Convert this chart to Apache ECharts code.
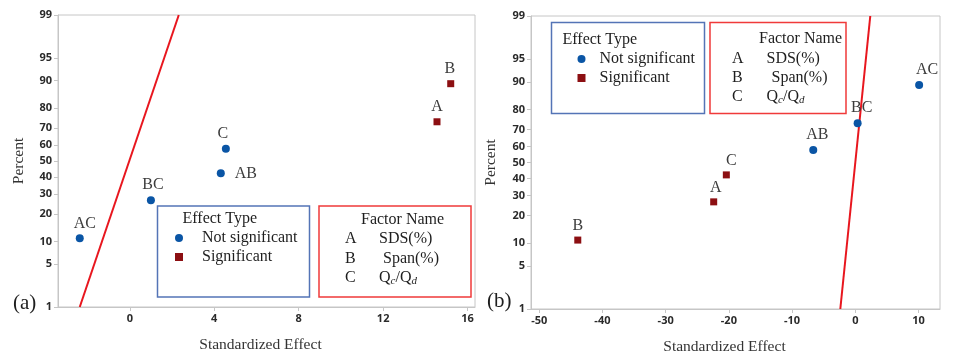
<!DOCTYPE html>
<html><head><meta charset="utf-8">
<script src="https://cdn.jsdelivr.net/npm/echarts@6/dist/echarts.min.js"></script>
<style>html,body{margin:0;padding:0;background:#fff}#c{width:955px;height:362px}</style>
</head><body><div id="c"></div>
<script>
// ---------------- data ----------------
const percentRanks = [10.9, 26.6, 42.2, 57.8, 73.4, 89.1];
const effectsA = ['AC', 'BC', 'AB', 'C', 'A', 'B'];
const valuesA = [-2.37, 1.0, 4.31, 4.55, 14.55, 15.2];
const significantA = [false, false, false, false, true, true];
const effectsB = ['B', 'A', 'C', 'AB', 'BC', 'AC'];
const valuesB = [-43.9, -22.4, -20.4, -6.65, 0.37, 10.1];
const significantB = [true, true, true, false, false, false];
const refLineEffectA = [-2.37, 2.32];
const refLineEffectB = [-2.37, 2.37];
const refLinePercent = [1, 99];
const percentTicks = [1, 5, 10, 20, 30, 40, 50, 60, 70, 80, 90, 95, 99];
const effectTicksA = [0, 4, 8, 12, 16];
const effectTicksB = [-50, -40, -30, -20, -10, 0, 10];
const effectRangeA = [-3.4, 16.35];
const effectRangeB = [-51.3, 13.4];
const legendNames = ['Not significant', 'Significant'];
const factorLetters = ['A', 'B', 'C'];
const factorNames = ['SDS(%)', 'Span(%)', 'Q{s|c}/Q{s|d}'];

// ---------------- helpers ----------------
function probit(p) {
  const a = [-3.969683028665376e+01, 2.209460984245205e+02, -2.759285104469687e+02, 1.383577518672690e+02, -3.066479806614716e+01, 2.506628277459239e+00];
  const b = [-5.447609879822406e+01, 1.615858368580409e+02, -1.556989798598866e+02, 6.680131188771972e+01, -1.328068155288572e+01];
  const c = [-7.784894002430293e-03, -3.223964580411365e-01, -2.400758277161838e+00, -2.549732539343734e+00, 4.374664141464968e+00, 2.938163982698783e+00];
  const d = [7.784695709041462e-03, 3.224671290700398e-01, 2.445134137142996e+00, 3.754408661907416e+00];
  const pl = 0.02425, ph = 1 - pl;
  let q, r;
  if (p < pl) { q = Math.sqrt(-2 * Math.log(p)); return (((((c[0]*q+c[1])*q+c[2])*q+c[3])*q+c[4])*q+c[5]) / ((((d[0]*q+d[1])*q+d[2])*q+d[3])*q+1); }
  if (p <= ph) { q = p - 0.5; r = q*q; return (((((a[0]*r+a[1])*r+a[2])*r+a[3])*r+a[4])*r+a[5])*q / (((((b[0]*r+b[1])*r+b[2])*r+b[3])*r+b[4])*r+1); }
  q = Math.sqrt(-2 * Math.log(1 - p));
  return -(((((c[0]*q+c[1])*q+c[2])*q+c[3])*q+c[4])*q+c[5]) / ((((d[0]*q+d[1])*q+d[2])*q+d[3])*q+1);
}
const zp = pct => probit(pct / 100);

const SERIF = '"Liberation Serif", "Times New Roman", serif';
const SANS = '"Open Sans", "Noto Sans", sans-serif';
const BLUE = '#0a55a5';
const DARKRED = '#8c0f12';
const AXIS = '#c6c6c6';

// label placement (style config)
const placeA = { AC: [5, 0, 'top'], BC: [2, 0, 'top'], AB: [0, 0, 'right'], C: [-3, 0, 'top'], A: [0, 0, 'top'], B: [-1, 0, 'top'] };
const placeB = { B: [0, 0, 'top'], A: [2, 0, 'top'], C: [5, 0, 'top'], AB: [4, 0, 'top'], BC: [4, 0, 'top'], AC: [8, 0, 'top'] };

function points(effects, values, sig, wantSig, place) {
  const out = [];
  effects.forEach((e, i) => {
    if (sig[i] !== wantSig) return;
    const p = place[e];
    out.push({
      name: e,
      value: [values[i], zp(percentRanks[i])],
      label: { position: p[2], offset: [p[0], p[1]], distance: p[2] === 'right' ? 10 : 3 }
    });
  });
  return out;
}

function xAxisCfg(gi, range, ticks, padRight) {
  return {
    type: 'value', gridIndex: gi, min: range[0], max: range[1],
    name: 'Standardized Effect', nameLocation: 'middle', nameGap: 30,
    nameTextStyle: { fontFamily: SERIF, fontSize: 15.5, color: '#333', padding: [0, padRight, 0, 0] },
    axisLine: { show: true, onZero: false, lineStyle: { color: AXIS } },
    axisTick: { show: true, length: 4, lineStyle: { color: AXIS }, customValues: ticks },
    axisLabel: { customValues: ticks, fontFamily: SANS, fontWeight: 'bold', fontSize: 11, color: '#2a2a2a', margin: 6 },
    splitLine: { show: false }
  };
}
function yAxisCfg(gi, gap) {
  const zt = percentTicks.map(zp);
  return {
    type: 'value', gridIndex: gi, min: zp(1), max: zp(99),
    name: 'Percent', nameLocation: 'middle', nameGap: gap,
    nameTextStyle: { fontFamily: SERIF, fontSize: 15.5, color: '#333' },
    axisLine: { show: true, onZero: false, lineStyle: { color: AXIS } },
    axisTick: { show: true, length: 4, lineStyle: { color: AXIS }, customValues: zt },
    axisLabel: {
      customValues: zt, fontFamily: SANS, fontWeight: 'bold', fontSize: 11, color: '#2a2a2a', margin: 6,
      formatter: v => {
        let best = 0;
        zt.forEach((z, i) => { if (Math.abs(z - v) < Math.abs(zt[best] - v)) best = i; });
        return String(percentTicks[best]);
      }
    },
    splitLine: { show: false }
  };
}

const pointLabel = { show: true, formatter: '{b}', fontFamily: SERIF, fontSize: 16, color: '#3c3c3c' };

function scatterSeries(gi, name, data, color, symbol, size) {
  return {
    type: 'scatter', name, xAxisIndex: gi, yAxisIndex: gi, data, symbol, symbolSize: size,
    itemStyle: { color, opacity: 1 }, label: pointLabel, z: 3, emphasis: { disabled: true }
  };
}
function refLine(gi, xs) {
  return {
    type: 'line', xAxisIndex: gi, yAxisIndex: gi,
    data: xs.map((x, i) => [x, zp(refLinePercent[i])]),
    showSymbol: false, symbol: 'none', lineStyle: { color: '#e8161e', width: 2 }, z: 2,
    emphasis: { disabled: true }, silent: true
  };
}

function txt(x, y, text, extra) {
  return {
    type: 'text', x, y, silent: true,
    style: Object.assign({ text, fill: '#1e1e1e', fontFamily: SERIF, fontSize: 16, verticalAlign: 'middle', align: 'left' }, extra || {})
  };
}
function box(x, y, w, h, color) {
  return { type: 'rect', shape: { x, y, width: w, height: h }, silent: true, style: { fill: 'none', stroke: color, lineWidth: 1.5 } };
}
const subRich = { s: { fontFamily: SERIF, fontSize: 11, fontStyle: 'italic', fill: '#1e1e1e', padding: [7, 0, 0, 0] } };

function factorBox(titleX, titleY, letterX, nameXs, rowY) {
  const els = [txt(titleX, titleY, 'Factor Name')];
  factorLetters.forEach((l, i) => {
    els.push(txt(letterX, rowY[i], l));
    els.push(txt(nameXs[i], rowY[i], factorNames[i], { rich: subRich }));
  });
  return els;
}

const legendCommon = {
  orient: 'vertical', itemWidth: 8, itemHeight: 8, itemGap: 1, padding: 0,
  selectedMode: false,
  data: [{ name: legendNames[0], icon: 'circle' }, { name: legendNames[1], icon: 'rect' }]
};

const option = {
  animation: false,
  backgroundColor: '#ffffff',
  grid: [
    { left: 58, top: 15, width: 417, height: 292, show: true, borderColor: AXIS, borderWidth: 1, backgroundColor: 'transparent' },
    { left: 531, top: 16, width: 409, height: 293, show: true, borderColor: AXIS, borderWidth: 1, backgroundColor: 'transparent' }
  ],
  xAxis: [xAxisCfg(0, effectRangeA, effectTicksA, 12), xAxisCfg(1, effectRangeB, effectTicksB, 22)],
  yAxis: [yAxisCfg(0, 31), yAxisCfg(1, 32)],
  legend: [
    Object.assign({}, legendCommon, { left: 175, top: 229, textStyle: { fontFamily: SERIF, fontSize: 16, color: '#1e1e1e', lineHeight: 18, padding: [0, 0, 0, 14] } }),
    Object.assign({}, legendCommon, { left: 577.5, top: 50, textStyle: { fontFamily: SERIF, fontSize: 16, color: '#1e1e1e', lineHeight: 18, padding: [0, 0, 0, 9] } })
  ],
  series: [
    refLine(0, refLineEffectA),
    scatterSeries(0, legendNames[0], points(effectsA, valuesA, significantA, false, placeA), BLUE, 'circle', 8),
    scatterSeries(0, legendNames[1], points(effectsA, valuesA, significantA, true, placeA), DARKRED, 'rect', 7),
    refLine(1, refLineEffectB),
    scatterSeries(1, legendNames[0], points(effectsB, valuesB, significantB, false, placeB), BLUE, 'circle', 8),
    scatterSeries(1, legendNames[1], points(effectsB, valuesB, significantB, true, placeB), DARKRED, 'rect', 7)
  ],
  graphic: [].concat(
    [box(157.5, 206, 152, 91, '#5474b6'), box(319, 206, 152, 91, '#f03a3a'),
     box(551.5, 22.5, 153, 91, '#5474b6'), box(710, 22.5, 136, 91, '#f03a3a'),
     txt(182.5, 218.5, 'Effect Type'), txt(562.5, 39.5, 'Effect Type'),
     txt(13, 303, '(a)', { fontSize: 21 }), txt(487, 301, '(b)', { fontSize: 21 })],
    factorBox(361, 220, 345, [379, 383, 379], [239, 258.5, 277.5]),
    factorBox(759, 39, 732, [766.5, 771.5, 766.5], [58.5, 78, 97])
  )
};

const chart = echarts.init(document.getElementById('c'), null, { renderer: 'canvas' });
chart.setOption(option);
</script>
</body></html>
